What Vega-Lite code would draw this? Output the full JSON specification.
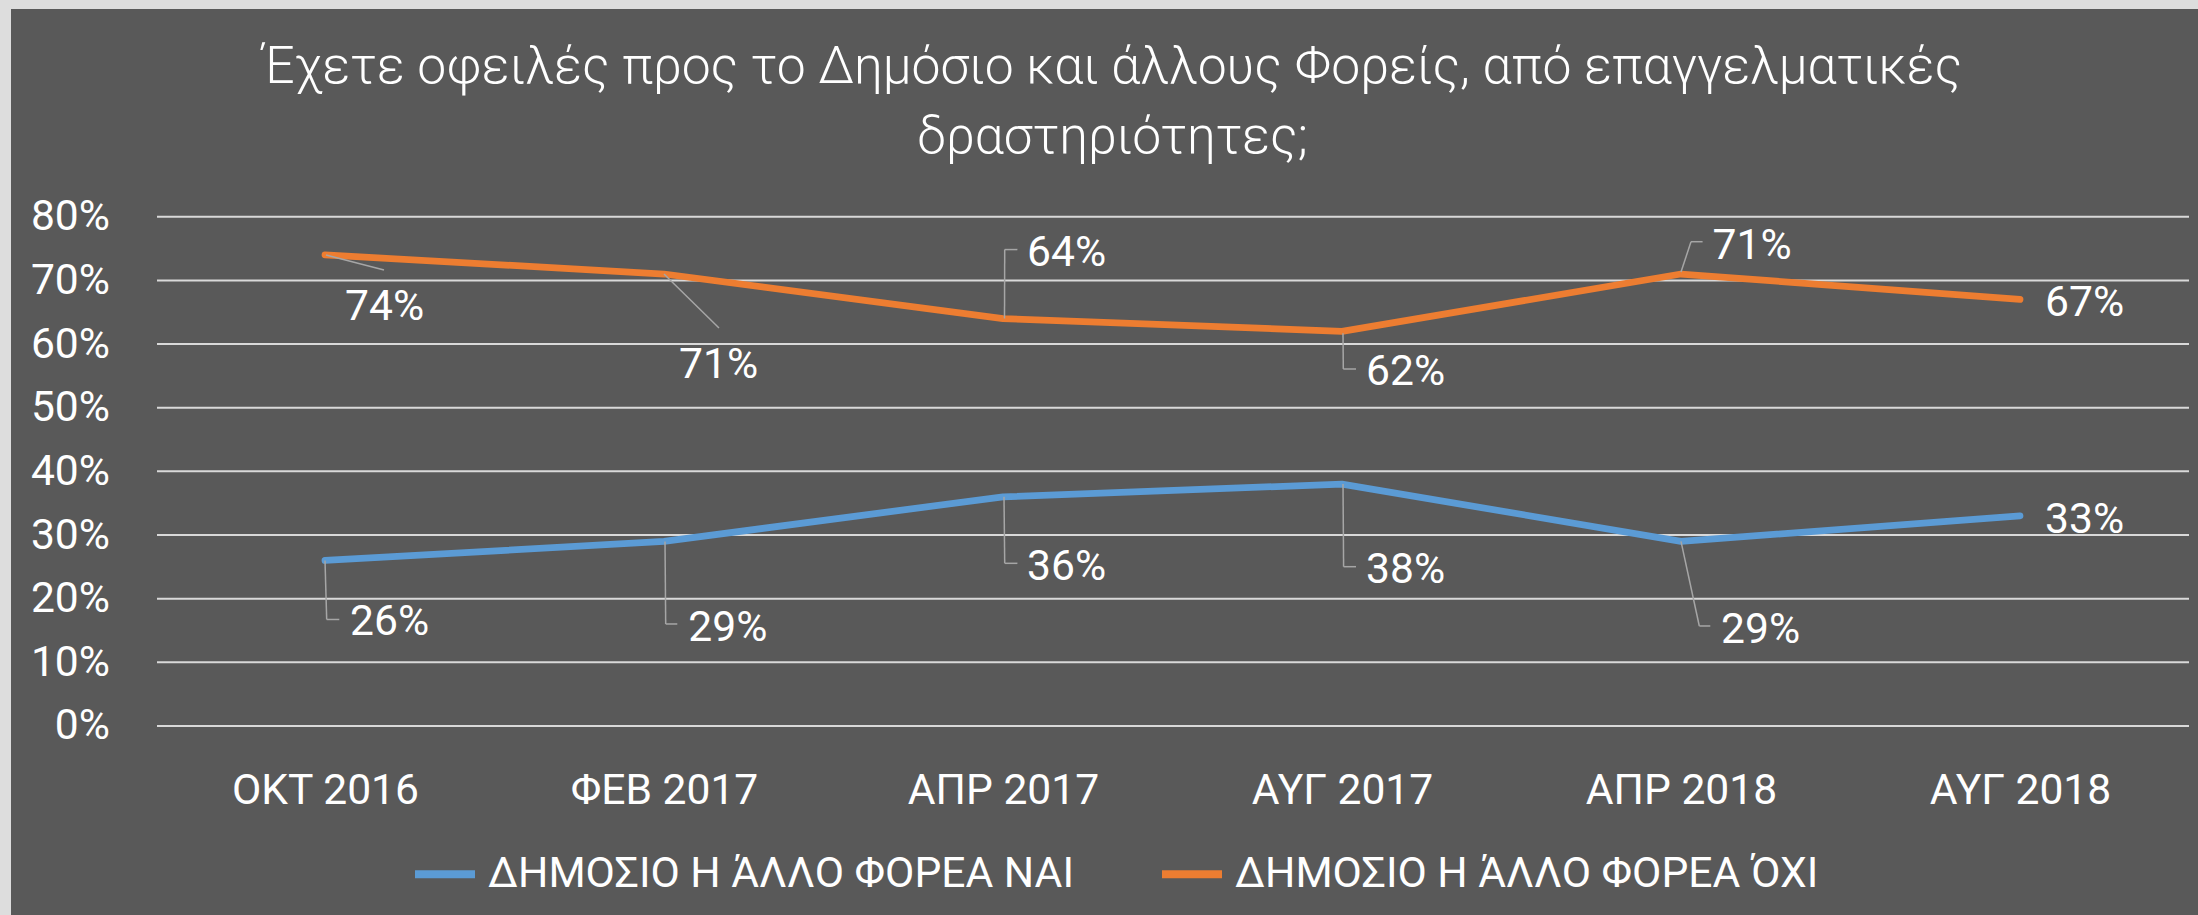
{
  "$schema": "https://vega.github.io/schema/vega-lite/v6.json",
  "width": 2198,
  "height": 915,
  "autosize": {"type": "fit", "contains": "padding"},
  "padding": {"left": 11, "top": 9, "right": 0, "bottom": 0},
  "background": "#dddddd",
  "config": {"view": {"fill": "#595959", "stroke": null}, "font": "Roboto"},
  "title": {
    "text": ["Έχετε οφειλές προς το Δημόσιο και άλλους Φορείς, από επαγγελματικές", "δραστηριότητες;"],
    "font": "Roboto",
    "fontSize": 51.6,
    "fontWeight": 300,
    "color": "#ffffff",
    "lineHeight": 70,
    "anchor": "middle",
    "frame": "group",
    "baseline": "bottom",
    "offset": -207,
    "dx": 8
  },
  "datasets": {
    "main": [
      {"date": "ΟΚΤ 2016", "series": "ΔΗΜΟΣΙΟ Η ΆΛΛΟ ΦΟΡΕΑ ΝΑΙ", "value": 0.26},
      {"date": "ΦΕΒ 2017", "series": "ΔΗΜΟΣΙΟ Η ΆΛΛΟ ΦΟΡΕΑ ΝΑΙ", "value": 0.29},
      {"date": "ΑΠΡ 2017", "series": "ΔΗΜΟΣΙΟ Η ΆΛΛΟ ΦΟΡΕΑ ΝΑΙ", "value": 0.36},
      {"date": "ΑΥΓ 2017", "series": "ΔΗΜΟΣΙΟ Η ΆΛΛΟ ΦΟΡΕΑ ΝΑΙ", "value": 0.38},
      {"date": "ΑΠΡ 2018", "series": "ΔΗΜΟΣΙΟ Η ΆΛΛΟ ΦΟΡΕΑ ΝΑΙ", "value": 0.29},
      {"date": "ΑΥΓ 2018", "series": "ΔΗΜΟΣΙΟ Η ΆΛΛΟ ΦΟΡΕΑ ΝΑΙ", "value": 0.33},
      {"date": "ΟΚΤ 2016", "series": "ΔΗΜΟΣΙΟ Η ΆΛΛΟ ΦΟΡΕΑ ΌΧΙ", "value": 0.74},
      {"date": "ΦΕΒ 2017", "series": "ΔΗΜΟΣΙΟ Η ΆΛΛΟ ΦΟΡΕΑ ΌΧΙ", "value": 0.71},
      {"date": "ΑΠΡ 2017", "series": "ΔΗΜΟΣΙΟ Η ΆΛΛΟ ΦΟΡΕΑ ΌΧΙ", "value": 0.64},
      {"date": "ΑΥΓ 2017", "series": "ΔΗΜΟΣΙΟ Η ΆΛΛΟ ΦΟΡΕΑ ΌΧΙ", "value": 0.62},
      {"date": "ΑΠΡ 2018", "series": "ΔΗΜΟΣΙΟ Η ΆΛΛΟ ΦΟΡΕΑ ΌΧΙ", "value": 0.71},
      {"date": "ΑΥΓ 2018", "series": "ΔΗΜΟΣΙΟ Η ΆΛΛΟ ΦΟΡΕΑ ΌΧΙ", "value": 0.67}
    ],
    "grid": [
      {"g": 0}, {"g": 0.1}, {"g": 0.2}, {"g": 0.3}, {"g": 0.4},
      {"g": 0.5}, {"g": 0.6}, {"g": 0.7}, {"g": 0.8}
    ]
  },
  "data": {"name": "main"},
  "layer": [
    {
      "data": {"name": "grid"},
      "mark": {"type": "rule", "color": "#d9d9d9", "strokeWidth": 2, "xOffset": -168, "x2Offset": 169},
      "encoding": {
        "y": {"field": "g", "type": "quantitative", "scale": {"domain": [-0.2969, 1.1263], "nice": false, "zero": false}},
        "x": {"datum": "ΟΚΤ 2016", "type": "ordinal"},
        "x2": {"datum": "ΑΥΓ 2018"}
      }
    },
    {
      "mark": {"type": "line", "strokeWidth": 6.75, "strokeCap": "round", "strokeJoin": "round"},
      "encoding": {
        "x": {
          "field": "date", "type": "ordinal",
          "scale": {"type": "point", "domain": ["ΟΚΤ 2016", "ΦΕΒ 2017", "ΑΠΡ 2017", "ΑΥΓ 2017", "ΑΠΡ 2018", "ΑΥΓ 2018"], "range": [314, 2009], "padding": 0},
          "axis": {"title": null, "domain": false, "ticks": false, "tickSize": 0, "grid": false, "labelAngle": 0, "labelAlign": "center", "labelFont": "Roboto", "labelFontSize": 42.6, "labelColor": "#ffffff", "labelBaseline": "alphabetic", "labelPadding": 77, "offset": -189, "labelLimit": 0}
        },
        "y": {
          "field": "value", "type": "quantitative",
          "scale": {"domain": [-0.2969, 1.1263], "nice": false, "zero": false},
          "axis": {"title": null, "domain": false, "ticks": false, "tickSize": 0, "grid": false, "values": [0, 0.1, 0.2, 0.3, 0.4, 0.5, 0.6, 0.7, 0.8], "format": ".0%", "labelFont": "Roboto", "labelFontSize": 42.6, "labelColor": "#ffffff", "labelPadding": 0, "offset": -98.5}
        },
        "color": {
          "field": "series", "type": "nominal",
          "scale": {"domain": ["ΔΗΜΟΣΙΟ Η ΆΛΛΟ ΦΟΡΕΑ ΝΑΙ", "ΔΗΜΟΣΙΟ Η ΆΛΛΟ ΦΟΡΕΑ ΌΧΙ"], "range": ["#5B9BD5", "#ED7D31"]},
          "legend": {"orient": "none", "legendX": 400, "legendY": 831, "direction": "horizontal", "title": null, "labelFont": "Roboto", "labelFontSize": 42.6, "labelColor": "#ffffff", "labelLimit": 0, "symbolType": "stroke", "symbolStrokeWidth": 8, "symbolSize": 3600, "labelOffset": 9, "columnPadding": 72, "padding": 0}
        }
      }
    },
    {
      "transform": [{"filter": "datum.date == 'ΑΥΓ 2018'"}],
      "mark": {"type": "text", "align": "left", "baseline": "alphabetic", "dx": 25, "dy": 16.6, "font": "Roboto", "fontSize": 42.6, "color": "#ffffff"},
      "encoding": {"x": {"field": "date", "type": "ordinal"}, "y": {"field": "value", "type": "quantitative"}, "text": {"field": "value", "type": "quantitative", "format": ".0%"}}
    },
    {
      "transform": [{"filter": "datum.date == 'ΟΚΤ 2016' && datum.value > 0.5"}],
      "encoding": {"x": {"field": "date", "type": "ordinal"}, "y": {"field": "value", "type": "quantitative"}},
      "layer": [
        {"mark": {"type": "text", "align": "left", "baseline": "alphabetic", "dx": 20, "dy": 65, "font": "Roboto", "fontSize": 42.6, "color": "#ffffff"}, "encoding": {"text": {"field": "value", "type": "quantitative", "format": ".0%"}}},
        {"mark": {"type": "rule", "color": "#a6a6a6", "strokeWidth": 1.5, "xOffset": 1, "x2Offset": 59, "y2Offset": 15}, "encoding": {"x2": {"field": "date"}, "y2": {"field": "value"}}}
      ]
    },
    {
      "transform": [{"filter": "datum.date == 'ΦΕΒ 2017' && datum.value > 0.5"}],
      "encoding": {"x": {"field": "date", "type": "ordinal"}, "y": {"field": "value", "type": "quantitative"}},
      "layer": [
        {"mark": {"type": "text", "align": "left", "baseline": "alphabetic", "dx": 15, "dy": 104, "font": "Roboto", "fontSize": 42.6, "color": "#ffffff"}, "encoding": {"text": {"field": "value", "type": "quantitative", "format": ".0%"}}},
        {"mark": {"type": "rule", "color": "#a6a6a6", "strokeWidth": 1.5, "x2Offset": 55, "y2Offset": 54}, "encoding": {"x2": {"field": "date"}, "y2": {"field": "value"}}}
      ]
    },
    {
      "transform": [{"filter": "datum.date == 'ΑΠΡ 2017' && datum.value > 0.5"}],
      "encoding": {"x": {"field": "date", "type": "ordinal"}, "y": {"field": "value", "type": "quantitative"}},
      "layer": [
        {"mark": {"type": "text", "align": "left", "baseline": "alphabetic", "dx": 24, "dy": -53, "font": "Roboto", "fontSize": 42.6, "color": "#ffffff"}, "encoding": {"text": {"field": "value", "type": "quantitative", "format": ".0%"}}},
        {"mark": {"type": "rule", "color": "#a6a6a6", "strokeWidth": 1.5, "xOffset": 1.5, "x2Offset": 1.7, "y2Offset": -69}, "encoding": {"x2": {"field": "date"}, "y2": {"field": "value"}}},
        {"mark": {"type": "rule", "color": "#a6a6a6", "strokeWidth": 1.5, "xOffset": 1.7, "yOffset": -69, "x2Offset": 14.4, "y2Offset": -69}, "encoding": {"x2": {"field": "date"}, "y2": {"field": "value"}}}
      ]
    },
    {
      "transform": [{"filter": "datum.date == 'ΑΥΓ 2017' && datum.value > 0.5"}],
      "encoding": {"x": {"field": "date", "type": "ordinal"}, "y": {"field": "value", "type": "quantitative"}},
      "layer": [
        {"mark": {"type": "text", "align": "left", "baseline": "alphabetic", "dx": 24, "dy": 53.7, "font": "Roboto", "fontSize": 42.6, "color": "#ffffff"}, "encoding": {"text": {"field": "value", "type": "quantitative", "format": ".0%"}}},
        {"mark": {"type": "rule", "color": "#a6a6a6", "strokeWidth": 1.5, "xOffset": 1, "yOffset": 2, "x2Offset": 1.3, "y2Offset": 37.7}, "encoding": {"x2": {"field": "date"}, "y2": {"field": "value"}}},
        {"mark": {"type": "rule", "color": "#a6a6a6", "strokeWidth": 1.5, "xOffset": 1.3, "yOffset": 37.7, "x2Offset": 14, "y2Offset": 37.7}, "encoding": {"x2": {"field": "date"}, "y2": {"field": "value"}}}
      ]
    },
    {
      "transform": [{"filter": "datum.date == 'ΑΠΡ 2018' && datum.value > 0.5"}],
      "encoding": {"x": {"field": "date", "type": "ordinal"}, "y": {"field": "value", "type": "quantitative"}},
      "layer": [
        {"mark": {"type": "text", "align": "left", "baseline": "alphabetic", "dx": 31.6, "dy": -14.7, "font": "Roboto", "fontSize": 42.6, "color": "#ffffff"}, "encoding": {"text": {"field": "value", "type": "quantitative", "format": ".0%"}}},
        {"mark": {"type": "rule", "color": "#a6a6a6", "strokeWidth": 1.5, "yOffset": -2, "x2Offset": 10, "y2Offset": -32.3}, "encoding": {"x2": {"field": "date"}, "y2": {"field": "value"}}},
        {"mark": {"type": "rule", "color": "#a6a6a6", "strokeWidth": 1.5, "xOffset": 10, "yOffset": -32.3, "x2Offset": 21.6, "y2Offset": -32.3}, "encoding": {"x2": {"field": "date"}, "y2": {"field": "value"}}}
      ]
    },
    {
      "transform": [{"filter": "datum.date == 'ΟΚΤ 2016' && datum.value < 0.5"}],
      "encoding": {"x": {"field": "date", "type": "ordinal"}, "y": {"field": "value", "type": "quantitative"}},
      "layer": [
        {"mark": {"type": "text", "align": "left", "baseline": "alphabetic", "dx": 25, "dy": 75, "font": "Roboto", "fontSize": 42.6, "color": "#ffffff"}, "encoding": {"text": {"field": "value", "type": "quantitative", "format": ".0%"}}},
        {"mark": {"type": "rule", "color": "#a6a6a6", "strokeWidth": 1.5, "x2Offset": 1.7, "y2Offset": 59}, "encoding": {"x2": {"field": "date"}, "y2": {"field": "value"}}},
        {"mark": {"type": "rule", "color": "#a6a6a6", "strokeWidth": 1.5, "xOffset": 1.7, "yOffset": 59, "x2Offset": 14.3, "y2Offset": 59}, "encoding": {"x2": {"field": "date"}, "y2": {"field": "value"}}}
      ]
    },
    {
      "transform": [{"filter": "datum.date == 'ΦΕΒ 2017' && datum.value < 0.5"}],
      "encoding": {"x": {"field": "date", "type": "ordinal"}, "y": {"field": "value", "type": "quantitative"}},
      "layer": [
        {"mark": {"type": "text", "align": "left", "baseline": "alphabetic", "dx": 24.3, "dy": 99.3, "font": "Roboto", "fontSize": 42.6, "color": "#ffffff"}, "encoding": {"text": {"field": "value", "type": "quantitative", "format": ".0%"}}},
        {"mark": {"type": "rule", "color": "#a6a6a6", "strokeWidth": 1.5, "xOffset": 1, "x2Offset": 1.7, "y2Offset": 82.6}, "encoding": {"x2": {"field": "date"}, "y2": {"field": "value"}}},
        {"mark": {"type": "rule", "color": "#a6a6a6", "strokeWidth": 1.5, "xOffset": 1.7, "yOffset": 82.6, "x2Offset": 13.3, "y2Offset": 82.6}, "encoding": {"x2": {"field": "date"}, "y2": {"field": "value"}}}
      ]
    },
    {
      "transform": [{"filter": "datum.date == 'ΑΠΡ 2017' && datum.value < 0.5"}],
      "encoding": {"x": {"field": "date", "type": "ordinal"}, "y": {"field": "value", "type": "quantitative"}},
      "layer": [
        {"mark": {"type": "text", "align": "left", "baseline": "alphabetic", "dx": 24, "dy": 83.2, "font": "Roboto", "fontSize": 42.6, "color": "#ffffff"}, "encoding": {"text": {"field": "value", "type": "quantitative", "format": ".0%"}}},
        {"mark": {"type": "rule", "color": "#a6a6a6", "strokeWidth": 1.5, "xOffset": 1, "x2Offset": 1.7, "y2Offset": 66.5}, "encoding": {"x2": {"field": "date"}, "y2": {"field": "value"}}},
        {"mark": {"type": "rule", "color": "#a6a6a6", "strokeWidth": 1.5, "xOffset": 1.7, "yOffset": 66.5, "x2Offset": 14.4, "y2Offset": 66.5}, "encoding": {"x2": {"field": "date"}, "y2": {"field": "value"}}}
      ]
    },
    {
      "transform": [{"filter": "datum.date == 'ΑΥΓ 2017' && datum.value < 0.5"}],
      "encoding": {"x": {"field": "date", "type": "ordinal"}, "y": {"field": "value", "type": "quantitative"}},
      "layer": [
        {"mark": {"type": "text", "align": "left", "baseline": "alphabetic", "dx": 24, "dy": 99.2, "font": "Roboto", "fontSize": 42.6, "color": "#ffffff"}, "encoding": {"text": {"field": "value", "type": "quantitative", "format": ".0%"}}},
        {"mark": {"type": "rule", "color": "#a6a6a6", "strokeWidth": 1.5, "xOffset": 1, "x2Offset": 1.6, "y2Offset": 82.6}, "encoding": {"x2": {"field": "date"}, "y2": {"field": "value"}}},
        {"mark": {"type": "rule", "color": "#a6a6a6", "strokeWidth": 1.5, "xOffset": 1.6, "yOffset": 82.6, "x2Offset": 14, "y2Offset": 82.6}, "encoding": {"x2": {"field": "date"}, "y2": {"field": "value"}}}
      ]
    },
    {
      "transform": [{"filter": "datum.date == 'ΑΠΡ 2018' && datum.value < 0.5"}],
      "encoding": {"x": {"field": "date", "type": "ordinal"}, "y": {"field": "value", "type": "quantitative"}},
      "layer": [
        {"mark": {"type": "text", "align": "left", "baseline": "alphabetic", "dx": 40, "dy": 102, "font": "Roboto", "fontSize": 42.6, "color": "#ffffff"}, "encoding": {"text": {"field": "value", "type": "quantitative", "format": ".0%"}}},
        {"mark": {"type": "rule", "color": "#a6a6a6", "strokeWidth": 1.5, "x2Offset": 18.3, "y2Offset": 84.6}, "encoding": {"x2": {"field": "date"}, "y2": {"field": "value"}}},
        {"mark": {"type": "rule", "color": "#a6a6a6", "strokeWidth": 1.5, "xOffset": 18.3, "yOffset": 84.6, "x2Offset": 29.3, "y2Offset": 84.6}, "encoding": {"x2": {"field": "date"}, "y2": {"field": "value"}}}
      ]
    }
  ]
}
